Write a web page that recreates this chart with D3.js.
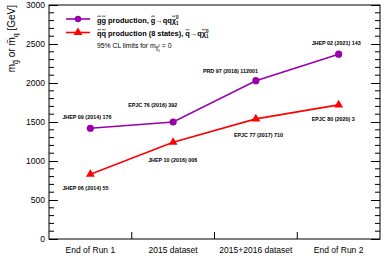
<!DOCTYPE html>
<html>
<head>
<meta charset="utf-8">
<script src="https://cdn.jsdelivr.net/npm/d3@7"></script>
<style>
  body { margin: 0; background: #fff; }
  text { font-family: "Liberation Sans", Arial, sans-serif; }
</style>
</head>
<body>
<div id="chart"></div>
<script>
// data
const categories = ['End of Run 1', '2015 dataset', '2015+2016 dataset', 'End of Run 2'];
const gluinoLimits = [1420, 1500, 2030, 2370];
const squarkLimits = [830, 1240, 1540, 1720];
const gluinoRefs = ['JHEP 09 (2014) 176', 'EPJC 76 (2016) 392', 'PRD 97 (2018) 112001', 'JHEP 02 (2021) 143'];
const squarkRefs = ['JHEP 06 (2014) 55', 'JHEP 10 (2016) 006', 'EPJC 77 (2017) 710', 'EPJC 80 (2020) 3'];
const yTicks = [0, 500, 1000, 1500, 2000, 2500, 3000];

// hand placed label offsets (as in the original)
const gluinoLabelOffsets = [[-28, -11], [-45, -17], [-53, -10], [-27, -11]];
const squarkLabelOffsets = [[-28, 14], [-25, 18], [-22, 16], [-27, 14]];

const width = 390, height = 266;
const margin = {top: 5, right: 10, bottom: 27, left: 49};
const innerW = width - margin.left - margin.right;
const innerH = height - margin.top - margin.bottom;
const purple = '#9900aa', red = '#ff0000';

const svg = d3.select('#chart').append('svg')
  .attr('width', width)
  .attr('height', height);

const g = svg.append('g').attr('transform', `translate(${margin.left},${margin.top})`);

const x = d3.scaleBand().domain(categories).range([0, innerW]);
const y = d3.scaleLinear().domain([0, 3000]).range([innerH, 0]);

// draws a small tilde above the given characters of a text element
function addTildes(parent, textSel, indices, w, lift) {
  const node = textSel.node();
  indices.forEach(i => {
    const b = node.getExtentOfChar(i);
    const mx = b.x + b.width / 2;
    const my = b.y + lift;
    const hw = w / 2, a = w * 0.22;
    parent.append('path')
      .attr('d', `M${mx - hw},${my + a * 0.5} C${mx - hw / 2},${my - a * 1.4} ${mx + hw / 2},${my + a * 1.9} ${mx + hw},${my - a * 0.5}`)
      .attr('fill', 'none').attr('stroke', '#000').attr('stroke-width', 0.7);
  });
}

// frame
g.append('rect')
  .attr('width', innerW).attr('height', innerH)
  .attr('fill', 'none').attr('stroke', '#000').attr('stroke-width', 1);

// minor ticks every 100
const minor = d3.range(0, 3001, 100).filter(v => v % 500 !== 0);

// left axis
const left = g.append('g')
  .call(d3.axisLeft(y).tickValues(yTicks).tickSize(-9).tickPadding(4).tickFormat(d3.format('d')));
left.select('.domain').remove();
left.selectAll('text').style('font-size', '8.5px').attr('fill', '#000');
left.selectAll('line').attr('stroke', '#000');
g.append('g').selectAll('line').data(minor).join('line')
  .attr('x1', 0).attr('x2', 5)
  .attr('y1', d => y(d)).attr('y2', d => y(d))
  .attr('stroke', '#000');

// right axis ticks
const right = g.append('g').attr('transform', `translate(${innerW},0)`)
  .call(d3.axisRight(y).tickValues(yTicks).tickSize(-9).tickFormat(''));
right.select('.domain').remove();
right.selectAll('line').attr('stroke', '#000');
g.append('g').selectAll('line').data(minor).join('line')
  .attr('x1', innerW - 5).attr('x2', innerW)
  .attr('y1', d => y(d)).attr('y2', d => y(d))
  .attr('stroke', '#000');

// bottom axis: labels centred on bands, ticks at band edges
const bottom = g.append('g').attr('transform', `translate(0,${innerH})`)
  .call(d3.axisBottom(x).tickSize(0).tickPadding(8));
bottom.select('.domain').remove();
bottom.selectAll('text').style('font-size', '8.5px').attr('fill', '#000');
g.append('g').selectAll('line').data(categories.slice(1)).join('line')
  .attr('x1', d => x(d)).attr('x2', d => x(d))
  .attr('y1', innerH).attr('y2', innerH - 7)
  .attr('stroke', '#000');

// y title
const ytg = svg.append('g').attr('transform', `translate(15,${margin.top}) rotate(-90)`);
const yt = ytg.append('text')
  .attr('text-anchor', 'end')
  .style('font-size', '10px');
yt.append('tspan').text('m');
yt.append('tspan').attr('dy', 3).style('font-size', '7px').text('g');
yt.append('tspan').attr('dy', -3).text(' or m');
yt.append('tspan').attr('dy', 3).style('font-size', '7px').text('q');
yt.append('tspan').attr('dy', -3).text(' [GeV]');
addTildes(ytg, yt, [1, 6], 3.4, 1.2);

const cx = d => x(d) + x.bandwidth() / 2;
const line = d3.line().x(d => cx(d[0])).y(d => y(d[1]));

// gluino series
const gl = categories.map((c, i) => [c, gluinoLimits[i]]);
g.append('path').datum(gl).attr('d', line)
  .attr('fill', 'none').attr('stroke', purple).attr('stroke-width', 1.6);
g.selectAll('.gdot').data(gl).join('circle')
  .attr('cx', d => cx(d[0])).attr('cy', d => y(d[1])).attr('r', 3.6)
  .attr('fill', purple);

// squark series
const sq = categories.map((c, i) => [c, squarkLimits[i]]);
const tri = d3.symbol().type(d3.symbolTriangle).size(34);
g.append('path').datum(sq).attr('d', line)
  .attr('fill', 'none').attr('stroke', red).attr('stroke-width', 1.6);
g.selectAll('.sdot').data(sq).join('path')
  .attr('d', tri)
  .attr('transform', d => `translate(${cx(d[0])},${y(d[1])})`)
  .attr('fill', red);

// reference labels
function refLabels(data, refs, offs) {
  g.append('g').selectAll('text').data(data).join('text')
    .attr('x', (d, i) => cx(d[0]) + offs[i][0])
    .attr('y', (d, i) => y(d[1]) + offs[i][1] + 2)
    .style('font-size', '5.4px').style('font-weight', 'bold')
    .text((d, i) => refs[i]);
}
refLabels(gl, gluinoRefs, gluinoLabelOffsets);
refLabels(sq, squarkRefs, squarkLabelOffsets);

// legend
const lg = svg.append('g');
lg.append('line').attr('x1', 66).attr('x2', 90).attr('y1', 19).attr('y2', 19)
  .attr('stroke', purple).attr('stroke-width', 1.6);
lg.append('circle').attr('cx', 78).attr('cy', 19).attr('r', 3.2).attr('fill', purple);
lg.append('line').attr('x1', 66).attr('x2', 90).attr('y1', 32.5).attr('y2', 32.5)
  .attr('stroke', red).attr('stroke-width', 1.6);
lg.append('path').attr('d', tri).attr('transform', 'translate(78,32.5)').attr('fill', red);

const t1 = lg.append('text').attr('x', 97).attr('y', 22.5)
  .style('font-size', '7.4px').style('font-weight', 'bold');
t1.append('tspan').text('gg production, g\u2192qq\u03c7');
t1.append('tspan').attr('dy', 2).style('font-size', '4.6px').text('1');
t1.append('tspan').attr('dx', -2.6).attr('dy', -5.2).style('font-size', '4.6px').text('0');
addTildes(lg, t1, [0, 1, 15, 19], 3.6, 0.6);

const t2 = lg.append('text').attr('x', 97).attr('y', 36)
  .style('font-size', '7.4px').style('font-weight', 'bold');
t2.append('tspan').text('qq production (8 states), q\u2192q\u03c7');
t2.append('tspan').attr('dy', 2).style('font-size', '4.6px').text('1');
t2.append('tspan').attr('dx', -2.6).attr('dy', -5.2).style('font-size', '4.6px').text('0');
addTildes(lg, t2, [0, 1, 26, 29], 3.6, 0.6);

const t3 = lg.append('text').attr('x', 97).attr('y', 48)
  .style('font-size', '6.8px');
t3.append('tspan').text('95% CL limits for m');
t3.append('tspan').attr('dy', 2).style('font-size', '4.5px').text('\u03c7');
t3.append('tspan').attr('dy', 2).style('font-size', '3.5px').text('1');
t3.append('tspan').attr('dx', -2).attr('dy', -5).style('font-size', '3.5px').text('0');
t3.append('tspan').attr('dy', 1).text(' = 0');
addTildes(lg, t3, [19], 2.4, 0.8);
</script>
</body>
</html>
